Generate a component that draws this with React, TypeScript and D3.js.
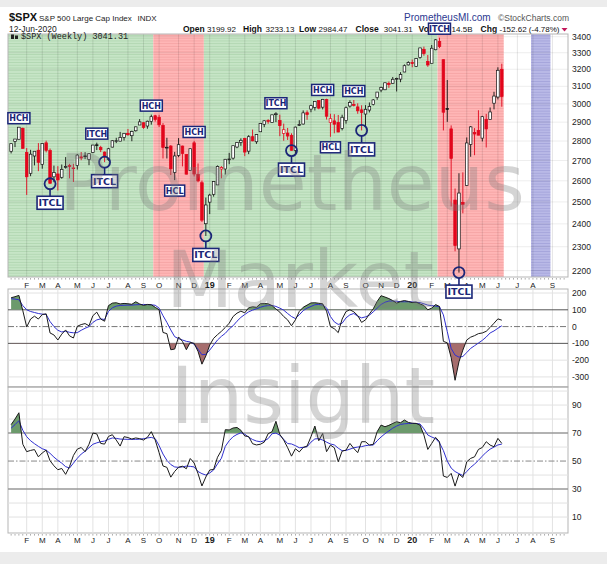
import React from "react";
import * as d3 from "d3";

// weekly bars, first bar = week of 8-Jan-2018
const firstWeek = new Date(2018, 0, 8);
const priorClose = 2743.15;

const opens = [
  2747, 2798, 2809.2, 2867.2, 2741.1, 2636.8, 2723, 2752.4, 2681.1, 2790.5,
  2750.6, 2619.4, 2633.5, 2617.2, 2670.1, 2675.4, 2663.4, 2675.5, 2718.6, 2723.6,
  2705.1, 2741.7, 2780.2, 2765.8, 2742.9, 2705, 2768.5, 2797.4, 2799.2, 2819,
  2840.3, 2827.9, 2853.9, 2884.7, 2897, 2879.2, 2903.8, 2934.8, 2926.3, 2882.5,
  2763.8, 2773.9, 2640.7, 2726.4, 2773.9, 2730.1, 2650, 2790.5, 2630.9, 2590.8,
  2400.6, 2498.9,
  2535.6, 2580.3, 2657.9, 2657.9, 2706.5, 2712.4, 2769, 2792, 2814, 2747.6,
  2822.6, 2796, 2848.6, 2888.3, 2908.3, 2898.8, 2940.6, 2908.9, 2840.2, 2841.9,
  2830, 2751.5, 2885.8, 2889.8, 2951.4, 2971.4, 2980.8, 3018.8, 2981.9, 3024.5,
  2898.1, 2907.1, 2898.8, 2866.7, 2909, 2988.4, 2996.4, 2983.5, 2967.1, 2944.2,
  2965.8, 2996.5, 3035.4, 3078.9, 3080.3, 3117.4, 3117.4, 3143.9, 3141.9, 3183.6,
  3226, 3240.1,
  3217.6, 3271.1, 3321, 3247.2, 3235.7, 3318.3, 3369, 3257.6, 2974.3, 2863.9,
  2508.6, 2290.7, 2498.1, 2578.3, 2782.5, 2845.6, 2854.7, 2815, 2915.5, 2913.9,
  3004.1, 3038.8, 3199.9,
];

const highs = [
  2788, 2810.3, 2872.9, 2870.6, 2763.4, 2754.4, 2747.8, 2789.2, 2786.6, 2801.9,
  2761.1, 2674.8, 2672.1, 2680.3, 2717.5, 2683.6, 2683.6, 2732.9, 2743, 2742.2,
  2736.9, 2779.9, 2791.5, 2775, 2746.1, 2764.4, 2804.5, 2816.8, 2848, 2841.6,
  2863.4, 2854.4, 2876.2, 2916.5, 2898.4, 2908.3, 2940.9, 2939.9, 2939.9, 2894.8,
  2816.9, 2778.9, 2744, 2815.2, 2776, 2733.2, 2760.9, 2800.2, 2685.4, 2601.1,
  2520.3, 2538.1,
  2597.8, 2675.5, 2672.4, 2708, 2738.9, 2775.7, 2794, 2814, 2816.9, 2830.7,
  2860.3, 2836, 2893.4, 2910.5, 2916.1, 2940, 2954.1, 2940.6, 2892.2, 2868.9,
  2840.5, 2876, 2910.6, 2964.2, 2964.2, 2995.8, 3013.9, 3019, 3028, 3029.2,
  2945.5, 2943.3, 2939.1, 2940.4, 2985.9, 3020.5, 3022, 3003.5, 2992.5, 2993.3,
  3008.3, 3027.4, 3066.9, 3097.8, 3120.5, 3127.6, 3154.3, 3150.6, 3182.7, 3228.7,
  3247.9, 3258.1,
  3268, 3329.9, 3337.8, 3285.9, 3348, 3385.1, 3393.5, 3259.8, 3136.7, 2882.6,
  2563, 2637, 2641.4, 2818.6, 2879.2, 2868, 2965, 2934.3, 2945, 2980.3,
  3068.7, 3211.7, 3233.1,
];

const lows = [
  2736, 2768.6, 2808.1, 2760, 2532.7, 2622.5, 2675.8, 2647.3, 2659.3, 2741.4,
  2585.9, 2593.1, 2553.8, 2610.3, 2660, 2612.2, 2594.6, 2655.2, 2701.9, 2707.4,
  2676.8, 2737.5, 2753.2, 2742.9, 2692, 2699, 2766.7, 2789.2, 2799.2, 2802.3,
  2827.2, 2799, 2849.9, 2884.7, 2864.1, 2864.6, 2886.6, 2903.3, 2874, 2710.5,
  2710.5, 2628.2, 2603.5, 2717.2, 2670.8, 2631.1, 2650, 2621.5, 2593, 2408.6,
  2346.6, 2444,
  2524.6, 2580.3, 2612.4, 2631, 2681.8, 2704.5, 2763, 2775, 2722.3, 2732.5,
  2798.7, 2785, 2848.6, 2873.3, 2891.3, 2898, 2900.5, 2825.4, 2801.4, 2805.5,
  2750.5, 2728.8, 2879.1, 2887.3, 2912.7, 2953.9, 2963.4, 2970, 2969.7, 2914.3,
  2822.1, 2840.6, 2846.5, 2856, 2891.9, 2979.4, 2985.9, 2945.5, 2855.9, 2874.9,
  2952.9, 2991.6, 3023.2, 3066.3, 3078.3, 3091.4, 3115.3, 3070.3, 3123.9, 3182.7,
  3223, 3212,
  3213.3, 3263.4, 3281.5, 3214.6, 3235.7, 3315.2, 3328.5, 2855.8, 2901.5, 2478.9,
  2280.5, 2191.9, 2447.5, 2578.3, 2719, 2727.1, 2830.2, 2797.9, 2766.6, 2913.9,
  2969.8, 3025.2, 2984.5,
];

const closes = [
  2786.2, 2810.3, 2872.9, 2762.1, 2619.6, 2732.2, 2747.3, 2691.3, 2786.6, 2752,
  2588.3, 2640.9, 2604.5, 2656.3, 2670.1, 2669.9, 2663.4, 2727.7, 2713, 2721.3,
  2734.6, 2779, 2779.7, 2754.9, 2718.4, 2759.8, 2801.3, 2801.8, 2818.8, 2840.4,
  2833.3, 2850.1, 2874.7, 2901.5, 2871.7, 2905, 2929.7, 2914, 2885.6, 2767.1,
  2767.8, 2658.7, 2723.1, 2781, 2736.3, 2632.6, 2760.2, 2633.1, 2600, 2416.6,
  2485.7, 2531.9,
  2596.3, 2670.7, 2664.8, 2706.5, 2708, 2775.6, 2792.7, 2803.7, 2743.1, 2822.5,
  2800.7, 2834.4, 2892.7, 2907.4, 2905, 2939.9, 2945.6, 2881.4, 2859.5, 2826.1,
  2752.1, 2873.3, 2886.9, 2950.5, 2941.8, 2990.4, 3013.8, 2976.6, 3025.9, 2932.1,
  2918.7, 2888.7, 2847.1, 2926.5, 2978.7, 3007.4, 2992.1, 2961.8, 2952, 2970.3,
  2986.2, 3022.6, 3066.9, 3093.1, 3120.5, 3110.3, 3141, 3145.9, 3168.8, 3221.2,
  3240, 3234.9,
  3265.4, 3329.6, 3295.5, 3225.5, 3327.7, 3380.2, 3337.8, 2954.2, 2972.4, 2711,
  2304.9, 2541.5, 2488.7, 2789.8, 2874.6, 2836.7, 2830.7, 2929.8, 2863.7, 2955.5,
  3044.3, 3193.9, 3041.3,
];

const cci = [
  172, 178, 186, 95, -2, 45, 62, 45, 72, 76,
  -38, -50, -80, -45, -20, -55, -68, 2, 12, 18,
  5, 65, 86, 45, 32, 125, 140, 142, 135, 138,
  136, 133, 148, 135, 126, 132, 130, 115, 100, -35,
  -42, -138, -134, -62, -88, -138, -94, -100, -148, -224,
  -175, -110, -70, -48, -28, -5, 20, 60, 80, 92,
  82, 112, 118, 115, 136, 137, 136, 125, 105, 86,
  60, 40, 5, 40, 90,
  115, 128, 141, 142, 139, 136, 92, 0, -13, -36,
  45, 90, 100, 88, 66, 25, 40, 75, 106, 150,
  184, 176, 167, 155, 140, 150, 155, 150, 143, 146,
  135, 126, 100, 110, 131, 120, -88, -97, -185, -320,
  -210, -140, -80, -63, -54, -42, -38, -28, -5, 20,
  46, 38,
];

const cciSignal = [
  166, 164, 160, 125, 100, 90, 84, 78, 74, 72,
  30, 0, -22, -32, -28, -34, -37, -36, -22, -10,
  0, 25, 40, 46, 42, 90, 112, 122, 126, 127,
  128, 128, 130, 131, 132, 131, 130, 127, 110, 65,
  25, -20, -60, -72, -80, -88, -92, -105, -135, -168,
  -165, -140, -110, -80, -58, -40, -14, 5, 32, 55,
  72, 88, 98, 106, 115, 122, 125, 126, 120, 110,
  98, 78, 60, 48, 70,
  95, 110, 120, 130, 132, 128, 112, 60, 28, 13,
  20, 52, 70, 78, 62, 52, 58, 68, 88, 110,
  132, 145, 152, 152, 151, 148, 148, 148, 147, 145,
  143, 136, 128, 125, 122, 118, 70, -30, -130, -170,
  -182, -178, -155, -130, -114, -98, -82, -62, -38, -26,
  -10, 5,
];

const rsi = [
  76, 80, 84.5, 62, 56.7, 57.6, 58.2, 53, 55.8, 57.8,
  50.2, 46.6, 43.8, 44.7, 40.5, 46, 54, 58.5, 59.7, 56.7,
  62, 70, 69.4, 62.6, 62.1, 67.6, 68.8, 65, 60.7, 67.4,
  66.8, 65.7, 66.5, 66, 65, 67, 71, 65, 56, 46.5,
  45.5, 38.5, 42.6, 45.6, 46.3, 44.5, 51.8, 48.6, 41, 32.2,
  38.6, 43.6, 44, 52.7, 57.6, 72.4, 72.2, 73.6, 74, 72,
  67.9, 67.5, 62.4, 61.5, 62, 63.5, 69.5, 71, 78.4, 69,
  65, 59.6, 53.5, 58.8, 56.5,
  59.7, 60.7, 67.4, 75, 64.5, 69.7, 56.7, 61.4, 59.5, 49.5,
  57.1, 57.8, 62.6, 59, 56, 63.8, 63.8, 61.4, 62, 71,
  75.7, 74.5, 75.5, 76.9, 78.1, 77.4, 79.3, 77.6, 77, 76.9,
  75.7, 68.6, 58.3, 62.6, 66.9, 63.8, 39.3, 38.3, 41.2, 32.1,
  40.7, 38.3, 49.5, 51.9, 53, 58.3, 59.7, 63.8, 61.4, 60.2,
  66.2, 62.6,
];

const rsiSignal = [
  73.5, 76, 78.8, 72, 67.4, 64.5, 62.4, 60.5, 58.8, 57.8,
  55.5, 52.8, 50.5, 48.5, 46, 45, 48.5, 52, 55, 57,
  59.5, 62, 63, 63.8, 64.3, 65.5, 66.5, 66.2, 65.7, 65.6,
  65.5, 65.5, 65.5, 65.6, 66, 66.5, 66.9, 66, 61, 55,
  50.5, 47.5, 45.8, 45.5, 45.8, 46.4, 46.2, 45.8, 42.5, 41,
  40, 41.5, 43.6, 48, 52, 60.5, 64.5, 67.4, 69, 70.2,
  69.2, 67, 65.4, 64.3, 63.8, 64.4, 66, 69.5, 70, 68.5,
  65.5, 62.5, 62.2, 61, 59.5,
  59.8, 60.2, 63.5, 65.8, 66, 65, 63.5, 62.2, 61.5, 59.2,
  57.4, 57.6, 58.5, 59.5, 60, 60.3, 61, 61.4, 61.4, 64.5,
  67.2, 69.5, 71.5, 73.5, 75, 76.2, 76.6, 76.8, 76.9, 76.8,
  76.5, 73, 68.6, 67.2, 66, 63, 57.5, 50, 45, 42.5,
  41, 39.7, 42.5, 45.5, 47.8, 50.5, 53.5, 56.3, 58.5, 60,
  61.5, 62.1,
];

const priceTicks = [2200, 2300, 2400, 2500, 2600, 2700, 2800, 2900, 3000, 3100, 3200, 3300, 3400];
const cciTicks = [200, 100, 0, -100, -200, -300];
const rsiTicks = [90, 70, 50, 30, 10];

// background zones, in bar index units
const zoneFrom = [-1, 36.5, 49.5, 109.5, 133.5];
const zoneTo = [36.5, 49.5, 109.5, 126.5, 138.5];
const zoneKind = ["up", "down", "up", "down", "cycle"];

// cycle labels
const markLabels = ["HCH", "ITCL", "ITCH", "ITCL", "HCH", "HCL", "HCH", "ITCL", "ITCH", "ITCL", "HCH", "HCL", "HCH", "ITCL", "ITCH", "ITCL"];
const markWeeks = [2, 10, 22, 24, 36, 42, 47, 50, 68, 72, 80, 82, 88, 90, 110, 115];

const monthLetters = "JFMAMJJASOND";

const RED = "#e2061c";
const NAVY = "#1b2677";
const SANS = "'Liberation Sans', Arial, sans-serif";

export default function App() {
  const W = 607, H = 564;
  const L = 8, R = 568;
  const pTop = 34, pBot = 277, cTop = 289, cBot = 387, rTop = 387, rBot = 533;

  const x = d3.scaleLinear().domain([-0.8, 143]).range([L, R]);
  const yP = d3.scaleLog().domain([2174, 3417]).range([pBot, pTop]);
  const yC = d3.scaleLinear().domain([-360, 224]).range([cBot, cTop]);
  const yR = d3.scaleLinear().domain([-1.4, 102.9]).range([rBot, rTop]);

  const idx = d3.range(closes.length);

  // month / year ticks
  const ticks: { k: number; label: string; year: boolean }[] = [];
  for (let k = 0; k <= 142; k++) {
    const d = d3.timeDay.offset(firstWeek, 7 * k);
    const prev = d3.timeDay.offset(d, -7);
    const end = d3.timeDay.offset(d, 6);
    const prevEnd = d3.timeDay.offset(d, -1);
    if (end.getFullYear() !== prevEnd.getFullYear()) {
      ticks.push({ k, label: String(end.getFullYear()).slice(2), year: true });
    } else if (d.getMonth() !== prev.getMonth() && d.getMonth() !== 0) {
      ticks.push({ k, label: monthLetters[d.getMonth()], year: false });
    }
  }
  const weekDots = d3.range(0, 143);

  const lineC = d3.line<number>().x((_, k) => x(k)).y((v) => yC(v));
  const lineR = d3.line<number>().x((_, k) => x(k)).y((v) => yR(v));
  const areaC = (base: number) =>
    d3.area<number>().x((_, k) => x(k)).y0(yC(base)).y1((v) => yC(v));
  const areaR = (base: number) =>
    d3.area<number>().x((_, k) => x(k)).y0(yR(base)).y1((v) => yR(v));

  const zoneStyle: Record<string, [string, string]> = {
    up: ["#c6e5c6", "#b0d6b0"],
    down: ["#ffb6b6", "#f4a2a2"],
    cycle: ["#b9b9e7", "#a3a3da"],
  };

  const xLabels = (yy: number) =>
    ticks.map((t) => (
      <text key={`xl${yy}-${t.k}`} x={x(t.k)} y={yy} textAnchor="middle"
        fontSize={t.year ? 9 : 8} fontWeight={t.year ? "bold" : "normal"} fill="#222">
        {t.label}
      </text>
    ));

  const dots = (yy: number) =>
    weekDots.map((k) => (
      <rect key={`d${yy}-${k}`} x={x(k) - 0.4} y={yy} width={0.8} height={1.6} fill="#9a9a9a" />
    ));

  return (
    <div style={{ position: "absolute", left: 0, top: 0 }}>
      <svg width={W} height={H} style={{ display: "block", fontFamily: SANS }}>
        <defs>
          {Object.entries(zoneStyle).map(([id, [base, line]]) => (
            <pattern key={id} id={`st-${id}`} patternUnits="userSpaceOnUse" width={6} height={2.7}>
              <rect width={6} height={2.7} fill={base} />
              <rect width={6} height={0.8} fill={line} />
            </pattern>
          ))}
          <clipPath id="clipP"><rect x={L} y={pTop} width={R - L} height={pBot - pTop} /></clipPath>
          <clipPath id="clipCup"><rect x={L} y={cTop} width={R - L} height={yC(100) - cTop} /></clipPath>
          <clipPath id="clipCdn"><rect x={L} y={yC(-100)} width={R - L} height={cBot - yC(-100)} /></clipPath>
          <clipPath id="clipRup"><rect x={L} y={rTop} width={R - L} height={yR(70) - rTop} /></clipPath>
          <clipPath id="clipRdn"><rect x={L} y={yR(30)} width={R - L} height={rBot - yR(30)} /></clipPath>
        </defs>

        <rect width={W} height={H} fill="#fff" />
        <rect width={W} height={7} fill="#ececec" />
        <rect y={552} width={W} height={H - 552} fill="#ececec" />

        {/* header */}
        <text x={9} y={21} fontSize={11} fontWeight="bold" fill="#111">$SPX</text>
        <text x={39} y={21} fontSize={8} fill="#222">S&amp;P 500 Large Cap Index</text>
        <text x={137.5} y={21} fontSize={8} fill="#222">INDX</text>
        <text x={9} y={32} fontSize={8.5} fill="#222">12-Jun-2020</text>
        <text x={183} y={32} fontSize={8.5} fill="#111">
          <tspan fontWeight="bold">Open</tspan><tspan x={207} fontSize={8}>3199.92</tspan>
          <tspan x={243} fontWeight="bold">High</tspan><tspan x={265.5} fontSize={8}>3233.13</tspan>
          <tspan x={299} fontWeight="bold">Low</tspan><tspan x={318.6} fontSize={8}>2984.47</tspan>
          <tspan x={355.5} fontWeight="bold">Close</tspan><tspan x={383.7} fontSize={8}>3041.31</tspan>
          <tspan x={418.6} fontWeight="bold">Vol</tspan><tspan x={451.6} fontSize={8}>14.5B</tspan>
          <tspan x={480.6} fontWeight="bold">Chg</tspan><tspan x={499.5} fontSize={8}>-152.62 (-4.78%)</tspan>
        </text>
        <path d="M561.5,28 L567.5,28 L564.5,31.5 Z" fill="#c2185b" />
        <text x={404} y={21} fontSize={10} fill="#2b3990">PrometheusMI.com</text>
        <text x={498} y={21} fontSize={8.5} fill="#555">©StockCharts.com</text>

        {/* price panel */}
        <rect x={L} y={pTop} width={R - L} height={pBot - pTop} fill="#fff" />
        <g clipPath="url(#clipP)">
          {zoneFrom.map((f, i) => (
            <rect key={`z${i}`} x={x(f)} y={pTop} width={x(zoneTo[i]) - x(f)} height={pBot - pTop}
              fill={`url(#st-${zoneKind[i]})`} />
          ))}
          {priceTicks.map((p) => (
            <line key={`pg${p}`} x1={L} x2={R} y1={yP(p)} y2={yP(p)} stroke="#000" strokeOpacity={0.07} />
          ))}
          {ticks.map((t) => (
            <line key={`pv${t.k}`} x1={x(t.k)} x2={x(t.k)} y1={pTop} y2={pBot} stroke="#000" strokeOpacity={0.1} />
          ))}
          {idx.map((k) => {
            const o = opens[k], c = closes[k];
            const pc = k === 0 ? priorClose : closes[k - 1];
            const col = c < pc ? RED : "#111";
            const filled = c < o;
            const top = yP(Math.max(o, c));
            const bot = yP(Math.min(o, c));
            return (
              <g key={`c${k}`}>
                <line x1={x(k)} x2={x(k)} y1={yP(highs[k])} y2={yP(lows[k])} stroke={col} strokeWidth={0.9} />
                <rect x={x(k) - 1.3} y={top} width={2.6} height={Math.max(bot - top, 0.8)}
                  fill={filled ? col : "#fff"} stroke={col} strokeWidth={0.7} />
              </g>
            );
          })}
        </g>
        <rect x={L} y={pTop} width={R - L} height={pBot - pTop} fill="none" stroke="#b5b5b5" />
        {priceTicks.map((p) => (
          <text key={`pl${p}`} x={572} y={yP(p) + 3} fontSize={8.5} fill="#222">{p}</text>
        ))}
        <rect x={11} y={34.5} width={3} height={4.5} fill="#222" />
        <rect x={15} y={35.5} width={3} height={3.5} fill="#222" />
        <text x={21} y={39} fontSize={8.5} fontFamily="'Liberation Mono', 'DejaVu Sans Mono', monospace" fill="#222">
          $SPX (Weekly) 3041.31
        </text>
        {dots(pBot + 1)}
        {xLabels(287.5)}

        {/* CCI panel */}
        <rect x={L} y={cTop} width={R - L} height={cBot - cTop} fill="#fff" stroke="#b5b5b5" />
        {[200, -200, -300].map((v) => (
          <line key={`cg${v}`} x1={L} x2={R} y1={yC(v)} y2={yC(v)} stroke="#e2e2e2" />
        ))}
        {ticks.map((t) => (
          <line key={`cv${t.k}`} x1={x(t.k)} x2={x(t.k)} y1={cTop} y2={cBot} stroke="#e2e2e2" />
        ))}
        <line x1={L} x2={R} y1={yC(100)} y2={yC(100)} stroke="#555" />
        <line x1={L} x2={R} y1={yC(-100)} y2={yC(-100)} stroke="#555" />
        <line x1={L} x2={R} y1={yC(0)} y2={yC(0)} stroke="#777" strokeDasharray="6,2,1.5,2" />
        <path d={areaC(100)(cci) ?? ""} fill="#6c9a6c" clipPath="url(#clipCup)" />
        <path d={areaC(-100)(cci) ?? ""} fill="#a66d6d" clipPath="url(#clipCdn)" />
        <path d={lineC(cciSignal) ?? ""} fill="none" stroke="#2f2fcf" strokeWidth={1} />
        <path d={lineC(cci) ?? ""} fill="none" stroke="#1a1a1a" strokeWidth={1} />
        {cciTicks.map((v) => (
          <text key={`cl${v}`} x={572} y={yC(v) + 3} fontSize={8.5} fill="#222">{v}</text>
        ))}

        {/* RSI panel */}
        <rect x={L} y={rTop} width={R - L} height={rBot - rTop} fill="#fff" stroke="#b5b5b5" />
        {[10, 20, 40, 60, 80, 90, 100].map((v) => (
          <line key={`rg${v}`} x1={L} x2={R} y1={yR(v)} y2={yR(v)} stroke="#e2e2e2" />
        ))}
        {ticks.map((t) => (
          <line key={`rv${t.k}`} x1={x(t.k)} x2={x(t.k)} y1={rTop} y2={rBot} stroke="#e2e2e2" />
        ))}
        <line x1={L} x2={R} y1={yR(70)} y2={yR(70)} stroke="#999" strokeWidth={1.4} />
        <line x1={L} x2={R} y1={yR(30)} y2={yR(30)} stroke="#999" strokeWidth={1.4} />
        <line x1={L} x2={R} y1={yR(50)} y2={yR(50)} stroke="#888" strokeDasharray="6,2,1.5,2" />
        <line x1={L} x2={R} y1={cBot} y2={cBot} stroke="#aaa" />
        <path d={areaR(70)(rsi) ?? ""} fill="#6c9a6c" clipPath="url(#clipRup)" />
        <path d={areaR(30)(rsi) ?? ""} fill="#a66d6d" clipPath="url(#clipRdn)" />
        <path d={lineR(rsiSignal) ?? ""} fill="none" stroke="#2f2fcf" strokeWidth={1} />
        <path d={lineR(rsi) ?? ""} fill="none" stroke="#1a1a1a" strokeWidth={1} />
        {rsiTicks.map((v) => (
          <text key={`rl${v}`} x={572} y={yR(v) + 3} fontSize={8.5} fill="#222">{v}</text>
        ))}
        {dots(rBot + 1)}
        {xLabels(543)}

        {/* cycle annotations */}
        {markWeeks.map((k, i) => {
          const label = markLabels[i];
          const cx = x(k);
          if (label === "ITCL") {
            const cy = yP(lows[k]);
            const by = cy + 19;
            return (
              <g key={`m${i}`}>
                <line x1={cx} x2={cx} y1={cy + 5.5} y2={by - 6.5} stroke={NAVY} strokeWidth={1.6} />
                <circle cx={cx} cy={cy} r={5.5} fill="none" stroke={NAVY} strokeWidth={1.8} />
                <rect x={cx - 13} y={by - 6.5} width={26} height={13} fill="#fff" stroke={NAVY} strokeWidth={1.6} />
                <text x={cx} y={by + 3.5} textAnchor="middle" fontSize={9.5} fontWeight="bold"
                  fontFamily="'DejaVu Sans', Verdana, sans-serif" fill={NAVY}>{label}</text>
              </g>
            );
          }
          const by = label === "HCL" ? yP(lows[k]) + 10.5 : yP(highs[k]) - 9;
          const w = label === "HCL" ? 20 : 22;
          return (
            <g key={`m${i}`}>
              <rect x={cx - w / 2} y={by - 5.5} width={w} height={11} fill="#fff" stroke={NAVY} strokeWidth={1.5} />
              <text x={cx} y={by + 3} textAnchor="middle" fontSize={8} fontWeight="bold"
                fontFamily="'DejaVu Sans', Verdana, sans-serif" fill={NAVY}>{label}</text>
            </g>
          );
        })}

        {/* watermark */}
        <g fontFamily="'DejaVu Sans', sans-serif" fontSize={78} fill="#7d7d7d" opacity={0.32} textAnchor="middle">
          <text x={292} y={210}>Prometheus</text>
          <text x={300} y={307}>Market</text>
          <text x={303} y={423}>Insight</text>
        </g>
      </svg>
    </div>
  );
}
